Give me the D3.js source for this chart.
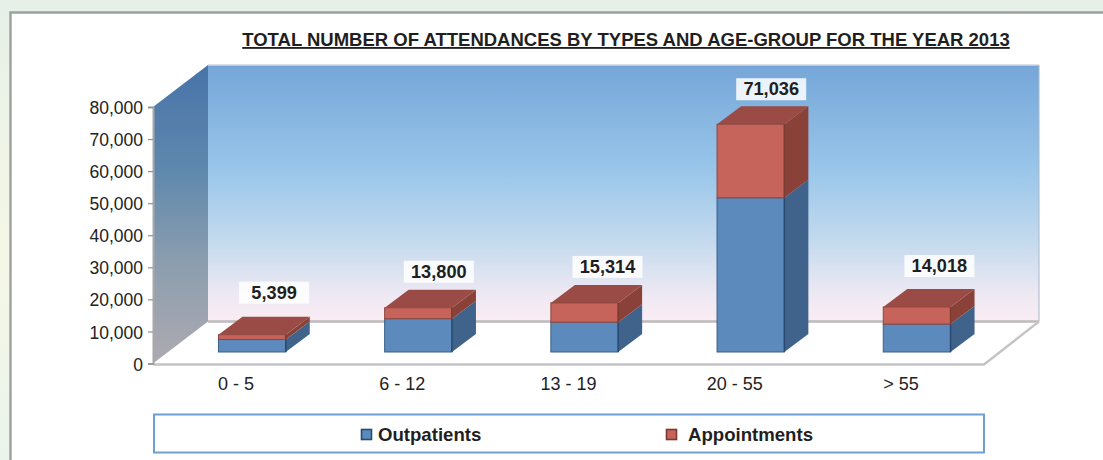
<!DOCTYPE html>
<html>
<head>
<meta charset="utf-8">
<script src="https://cdn.jsdelivr.net/npm/d3@7/dist/d3.min.js"></script>
<style>
	html, body { margin: 0; padding: 0; background: #fff; }
	svg { display: block; font-family: "Liberation Sans", Arial, sans-serif; }
</style>
</head>
<body>
<div id="chart"></div>
<script>
var ageGroups = ["0 - 5", "6 - 12", "13 - 19", "20 - 55", "> 55"];
var outpatients = [3900, 10400, 9300, 48100, 8700];
var appointments = [1499, 3400, 6014, 22936, 5318];
var yTicks = [0, 10000, 20000, 30000, 40000, 50000, 60000, 70000, 80000];
var seriesNames = ["Outpatients", "Appointments"];
var chartTitle = "TOTAL NUMBER OF ATTENDANCES BY TYPES AND AGE-GROUP FOR THE YEAR 2013";

var width = 1103, height = 460;

var svg = d3.select("#chart").append("svg")
	.attr("width", width)
	.attr("height", height);

var defs = svg.append("defs");

function gradient(id, stops) {
	var g = defs.append("linearGradient")
		.attr("id", id)
		.attr("x1", 0).attr("y1", 0)
		.attr("x2", 0).attr("y2", 1);
	stops.forEach(function (s) {
		g.append("stop").attr("offset", s[0]).attr("stop-color", s[1]);
	});
}

gradient("pageGrad", [[0, "#e6f0e8"], [0.55, "#f5f7e6"], [1, "#eaf4ec"]]);
gradient("backGrad", [[0, "#75a6d8"], [0.4, "#98c5e9"], [0.7, "#c6dbee"], [0.9, "#efe9f3"], [1, "#faecf3"]]);
gradient("sideGrad", [[0, "#4873a9"], [0.35, "#5f88ad"], [0.65, "#8a9dae"], [1, "#aeaab0"]]);

// the original is a slightly soft scan
defs.append("filter").attr("id", "soft")
	.append("feGaussianBlur").attr("stdDeviation", 0.5);

// depth of the floor and of the bars
var floorDx = 55, floorDy = -42;
var barDx = 24, barDy = -18;
var barShiftX = 16, barShiftY = -11.5;
var labelW = 70, labelH = 22;

var x = d3.scaleBand().domain(ageGroups).range([153, 984]).paddingInner(0.595).paddingOuter(0.2975);
var y = d3.scaleLinear().domain([0, 80000]).range([363.5, 107]);

// page and panel
svg.append("rect").attr("width", width).attr("height", height).attr("fill", "url(#pageGrad)");
svg.append("rect").attr("x", 10).attr("y", 12).attr("width", width - 10).attr("height", height - 12)
	.attr("fill", "#fff");
svg.append("path").attr("d", "M10.5," + height + "V12.5H" + width)
	.attr("fill", "none").attr("stroke", "#9da19d").attr("stroke-width", 2.4);

// title
svg.append("text")
	.attr("x", 626)
	.attr("y", 46)
	.attr("text-anchor", "middle")
	.attr("font-size", 18.5)
	.attr("font-weight", "bold")
	.attr("text-decoration", "underline")
	.attr("fill", "#1f1f21")
	.text(chartTitle);

// walls and floor
var x0 = x.range()[0], x1 = x.range()[1];
var yBase = y(0), yTop = y(80000);

function poly(points) {
	return "M" + points.map(function (p) { return p.join(","); }).join("L") + "Z";
}

var walls = svg.append("g").attr("filter", "url(#soft)");

walls.append("path")
	.attr("d", poly([[x0 + floorDx, yTop + floorDy], [x1 + floorDx, yTop + floorDy], [x1 + floorDx, yBase + floorDy], [x0 + floorDx, yBase + floorDy]]))
	.attr("fill", "url(#backGrad)");
walls.append("path")
	.attr("d", poly([[x0, yTop], [x0 + floorDx, yTop + floorDy], [x0 + floorDx, yBase + floorDy], [x0, yBase]]))
	.attr("fill", "url(#sideGrad)");
walls.append("path")
	.attr("d", "M" + (x0 + floorDx) + "," + (yTop + floorDy) + "H" + (x1 + floorDx))
	.attr("stroke", "#cfd6e2").attr("stroke-width", 1.5).attr("fill", "none");
walls.append("path")
	.attr("d", "M" + (x1 + floorDx) + "," + (yTop + floorDy) + "V" + (yBase + floorDy))
	.attr("stroke", "#a9b6c8").attr("stroke-width", 1).attr("fill", "none");
walls.append("path")
	.attr("d", "M" + (x0 + floorDx) + "," + (yBase + floorDy) + "H" + (x1 + floorDx))
	.attr("stroke", "#bdb9bd").attr("stroke-width", 2.4).attr("fill", "none");
walls.append("path")
	.attr("d", "M" + x0 + "," + (yBase + 1) + "H" + x1 + "L" + (x1 + floorDx) + "," + (yBase + floorDy))
	.attr("stroke", "#c4c4c4").attr("stroke-width", 2.4).attr("fill", "none");

// axes
var yAxis = d3.axisLeft(y).tickValues(yTicks).tickFormat(d3.format(",")).tickSize(5).tickPadding(5);
var gy = svg.append("g").attr("transform", "translate(" + x0 + ",0)").call(yAxis);
gy.selectAll("path").attr("stroke", "#a8a8a8").attr("stroke-width", 2);
gy.selectAll("line").attr("stroke", "#8f8f8f").attr("stroke-width", 1.2);
gy.selectAll("text").attr("font-size", 17.5).attr("font-family", "Liberation Sans").attr("fill", "#222").attr("y", 1);

var xAxis = d3.axisBottom(x).tickSize(0).tickPadding(14);
var gx = svg.append("g").attr("transform", "translate(0," + yBase + ")").call(xAxis);
gx.select("path").remove();
gx.selectAll("text").attr("font-size", 18).attr("font-family", "Liberation Sans").attr("fill", "#222");

// bars
var rows = ageGroups.map(function (name, i) {
	return { group: name, Outpatients: outpatients[i], Appointments: appointments[i] };
});
var stacked = d3.stack().keys(seriesNames)(rows);

var barStyles = {
	Outpatients: { front: "#5b8abd", side: "#3f638b", top: "#4a6f98", edge: "#3b5f8c" },
	Appointments: { front: "#c6645a", side: "#8a4339", top: "#9a4c44", edge: "#8f463f" }
};

function barLeft(d) { return x(d.data.group) + barShiftX; }

stacked.forEach(function (layer) {
	var st = barStyles[layer.key];
	var g = svg.append("g").attr("class", "series").attr("filter", "url(#soft)");
	var w = x.bandwidth();

	// right side
	g.selectAll("path.side").data(layer).enter().append("path")
		.attr("class", "side")
		.attr("fill", st.side)
		.attr("d", function (d) {
			var l = barLeft(d) + w, t = y(d[1]) + barShiftY, b = y(d[0]) + barShiftY;
			return poly([[l, t], [l + barDx, t + barDy], [l + barDx, b + barDy], [l, b]]);
		});

	// top, only the last series shows it
	if (layer.key === "Appointments") {
		g.selectAll("path.top").data(layer).enter().append("path")
			.attr("class", "top")
			.attr("fill", st.top)
			.attr("d", function (d) {
				var l = barLeft(d), t = y(d[1]) + barShiftY;
				return poly([[l, t], [l + barDx, t + barDy], [l + w + barDx, t + barDy], [l + w, t]]);
			});
	}

	// front
	g.selectAll("rect").data(layer).enter().append("rect")
		.attr("x", barLeft)
		.attr("y", function (d) { return y(d[1]) + barShiftY; })
		.attr("width", w)
		.attr("height", function (d) { return y(d[0]) - y(d[1]); })
		.attr("fill", st.front)
		.attr("stroke", st.edge)
		.attr("stroke-width", 1);

	// dark join between front and side
	g.selectAll("line").data(layer).enter().append("line")
		.attr("x1", function (d) { return barLeft(d) + w; })
		.attr("x2", function (d) { return barLeft(d) + w; })
		.attr("y1", function (d) { return y(d[1]) + barShiftY; })
		.attr("y2", function (d) { return y(d[0]) + barShiftY; })
		.attr("stroke", layer.key === "Outpatients" ? "#2a4a70" : "#7a3a33")
		.attr("stroke-width", 1.5);
});

// total labels, each one was placed by hand in the original
var labelLift = [13, 7, 7, 6, 12];
var labelShift = [22, 20.5, 23, 20.5, 22.5];
var labels = svg.append("g").selectAll("g").data(rows).enter().append("g")
	.attr("transform", function (d, i) {
		var cx = x(d.group) + barShiftX + x.bandwidth() / 2 + labelShift[i];
		var bottom = y(d.Outpatients + d.Appointments) + barShiftY + barDy - labelLift[i];
		return "translate(" + cx + "," + bottom + ")";
	});
labels.append("rect")
	.attr("x", -labelW / 2)
	.attr("y", -labelH)
	.attr("width", labelW)
	.attr("height", labelH)
	.attr("fill", "#fff")
	.attr("fill-opacity", 0.85);
labels.append("text")
	.attr("y", -5)
	.attr("text-anchor", "middle")
	.attr("font-size", 18.2)
	.attr("font-weight", "bold")
	.attr("fill", "#1f1f21")
	.text(function (d) { return d3.format(",")(d.Outpatients + d.Appointments); });

// legend
svg.append("rect")
	.attr("x", 154).attr("y", 414.5)
	.attr("width", 830).attr("height", 38)
	.attr("fill", "#fff")
	.attr("stroke", "#6f9fd0")
	.attr("stroke-width", 2);

var legendX = d3.scaleOrdinal().domain(seriesNames).range([361, 666]);
var legendGap = { Outpatients: 17, Appointments: 22 };
var legend = svg.append("g").selectAll("g").data(seriesNames).enter().append("g")
	.attr("transform", function (d) { return "translate(" + legendX(d) + ",429)"; });
legend.append("rect")
	.attr("x", 0.5).attr("y", 0.5)
	.attr("width", 10).attr("height", 10)
	.attr("fill", function (d) { return barStyles[d].front; })
	.attr("stroke", function (d) { return d === "Outpatients" ? "#2a4a70" : "#7a3a33"; })
	.attr("stroke-width", 1.6);
legend.append("text")
	.attr("x", function (d) { return legendGap[d]; })
	.attr("y", 12)
	.attr("font-size", 18.6)
	.attr("font-weight", "bold")
	.attr("fill", "#1f1f21")
	.text(function (d) { return d; });
</script>
</body>
</html>
